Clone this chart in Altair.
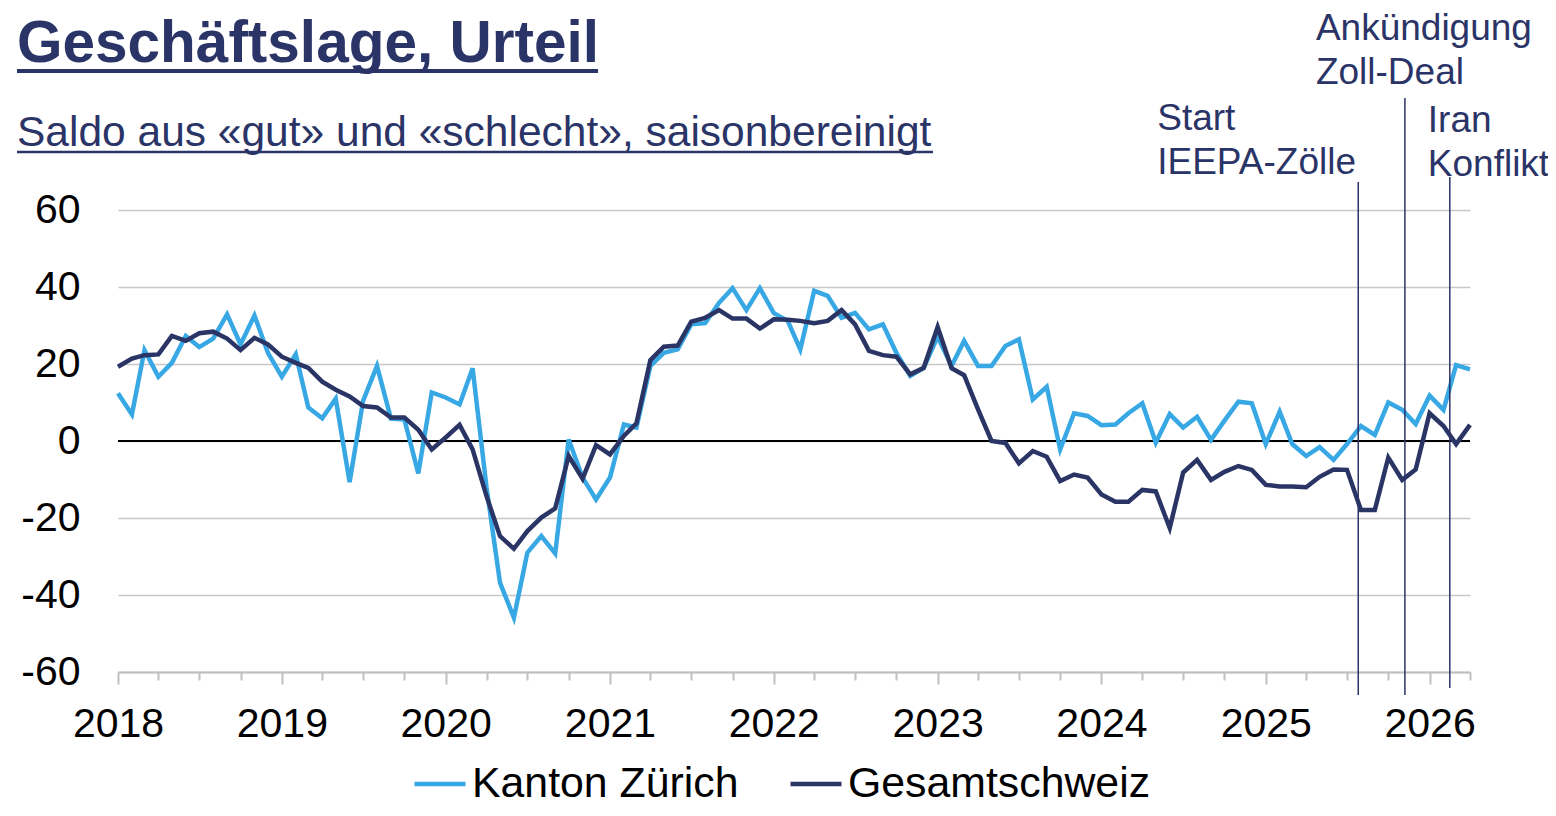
import altair as alt
import pandas as pd

# ---------------- data ----------------
series_names = ["Kanton Zürich", "Gesamtschweiz"]

kanton_zuerich = [
    12.4, 6.9, 23.6, 16.7, 20.3, 27.3, 24.4, 26.6, 32.9, 25.1, 32.6, 22.9,
    16.7, 22.5, 8.7, 5.9, 11.0, -10.7, 10.4, 19.5, 5.8, 5.6, -8.4, 12.6,
    11.3, 9.5, 18.9, -12.0, -36.8, -45.9, -29.0, -24.7, -29.2, 0.4, -9.5, -15.2,
    -9.5, 4.3, 3.5, 19.5, 22.9, 23.8, 30.3, 30.6, 35.9, 39.7, 34.0, 39.7,
    33.2, 31.2, 23.8, 39.0, 37.7, 32.0, 33.3, 29.0, 30.3, 22.9, 16.9, 19.0,
    27.1, 19.5, 26.0, 19.5, 19.5, 24.7, 26.4, 10.8, 14.1, -2.2, 7.2, 6.5,
    4.1, 4.3, 7.2, 9.8, -0.4, 7.0, 3.5, 6.3, 0.3, 5.3, 10.2, 9.8,
    -0.8, 7.6, -0.8, -3.9, -1.6, -4.9, -0.8, 3.9, 1.6, 10.0, 8.1, 4.4,
    11.8, 8.1, 19.7, 18.6,
]

gesamtschweiz = [
    19.3, 21.4, 22.3, 22.5, 27.3, 26.0, 28.0, 28.4, 26.6, 23.6, 26.8, 25.1,
    21.9, 20.3, 19.0, 15.4, 13.3, 11.6, 9.1, 8.7, 6.1, 6.1, 2.9, -2.2,
    0.9, 4.2, -2.2, -14.3, -24.7, -28.0, -23.4, -19.9, -17.5, -3.9, -9.8, -1.1,
    -3.5, 1.3, 4.6, 21.0, 24.5, 24.8, 31.0, 32.0, 34.0, 31.8, 31.8, 29.2,
    31.6, 31.5, 31.2, 30.6, 31.2, 34.0, 30.3, 23.4, 22.3, 21.9, 17.3, 19.0,
    29.6, 18.9, 17.1, 8.2, 0.0, -0.5, -5.8, -2.6, -4.1, -10.4, -8.7, -9.5,
    -13.9, -15.8, -15.8, -12.7, -13.1, -22.6, -8.2, -4.9, -10.1, -8.0, -6.5, -7.5,
    -11.4, -11.8, -11.8, -12.0, -9.3, -7.4, -7.5, -17.9, -17.9, -4.3, -10.1, -7.4,
    7.2, 3.9, -0.8, 4.2,
]

first_month = "2018-01-01"

event_labels = ["Start\nIEEPA-Zölle", "Ankündigung\nZoll-Deal", "Iran\nKonflikt"]
event_dates = ["2025-07-26", "2025-11-07", "2026-02-15"]

y_ticks = [-60, -40, -20, 0, 20, 40, 60]

title_text = "Geschäftslage, Urteil"
subtitle_text = "Saldo aus «gut» und «schlecht», saisonbereinigt"

# ---------------- styling ----------------
series_colors = ["#38a8e5", "#2a3566"]
navy = "#2b3467"
grey = "#bfbfbf"
FONT = "Liberation Sans"

months = pd.date_range(first_month, periods=len(kanton_zuerich), freq="MS")
df = pd.DataFrame({
    "Monat": list(months) + list(months),
    "Serie": [series_names[0]] * len(kanton_zuerich) + [series_names[1]] * len(gesamtschweiz),
    "Saldo": kanton_zuerich + gesamtschweiz,
})

events = pd.DataFrame({"Monat": pd.to_datetime(event_dates), "Ereignis": event_labels})

x_scale = alt.Scale(
    domain=[alt.DateTime(year=2018, month=1, date=1), alt.DateTime(year=2026, month=4, date=1)],
    nice=False,
)
y_scale = alt.Scale(domain=[-60, 60], nice=False)

quarter_values = [
    alt.DateTime(year=y, month=m, date=1)
    for y in range(2018, 2027)
    for m in (1, 4, 7, 10)
    if (y, m) <= (2026, 4)
]

x_axis = alt.Axis(
    values=quarter_values,
    title=None,
    grid=False,
    domainColor=grey,
    domainWidth=2,
    tickColor=grey,
    tickWidth=2,
    tickSize={"condition": {"test": "month(datum.value) === 0", "value": 12}, "value": 8},
    labelExpr="month(datum.value) === 0 ? timeFormat(datum.value, '%Y') : ''",
    labelFontSize=41,
    labelFont=FONT,
    labelColor="#000000",
    labelPadding=20,
    labelOverlap=False,
    labelFlush=False,
)

y_axis = alt.Axis(
    values=y_ticks,
    title=None,
    domain=False,
    ticks=False,
    grid=True,
    gridColor="#c8c8c8",
    gridWidth=1.5,
    labelFontSize=41,
    labelFont=FONT,
    labelColor="#000000",
    labelPadding=38,
    labelExpr="datum.value + ''",
)

X = alt.X("Monat:T", scale=x_scale, axis=x_axis)
Y = alt.Y("Saldo:Q", scale=y_scale, axis=y_axis)

color = alt.Color(
    "Serie:N",
    scale=alt.Scale(domain=series_names, range=series_colors),
    legend=alt.Legend(
        title=None,
        orient="none",
        legendX=294,
        legendY=546,
        direction="horizontal",
        symbolType="stroke",
        symbolSize=2601,
        symbolStrokeWidth=4.5,
        labelFontSize=42.8,
        labelFont=FONT,
        labelColor="#000000",
        labelOffset=4,
        labelLimit=0,
        columnPadding=42,
        padding=0,
    ),
)

zero_rule = alt.Chart(pd.DataFrame({"Saldo": [0]})).mark_rule(
    color="#000000", strokeWidth=2
).encode(y=Y)

base = alt.Chart(df).encode(x=X, y=Y, color=color)
line_kz = base.transform_filter(alt.datum.Serie == series_names[0]).mark_line(strokeWidth=4.5)
line_gs = base.transform_filter(alt.datum.Serie == series_names[1]).mark_line(strokeWidth=4.5)

# event markers: rule tops/bottoms and label offsets (pixels, styling only)
rule_tops = [-28, -112, -33]
rule_bottoms = [485, 485, 478]
label_dx = [-201, -89, -22]
label_y = [-80, -170, -78]

event_layers = []
for i in range(len(event_labels)):
    ev = alt.Chart(events.iloc[[i]])
    event_layers.append(
        ev.mark_rule(color=navy, strokeWidth=1.5).encode(
            x=X, y=alt.value(rule_tops[i]), y2=alt.value(rule_bottoms[i])
        )
    )
    event_layers.append(
        ev.mark_text(
            align="left", baseline="alphabetic", dx=label_dx[i], fontSize=37,
            lineHeight=44, lineBreak="\n", color=navy, font=FONT,
        ).encode(x=X, y=alt.value(label_y[i]), text="Ereignis:N")
    )

one = pd.DataFrame({"t": [0]})
title = alt.Chart(pd.DataFrame({"t": [title_text]})).mark_text(
    align="left", baseline="alphabetic", fontSize=58.5, fontWeight="bold", color=navy, font=FONT
).encode(x=alt.value(-101), y=alt.value(-148), text="t:N")
title_ul = alt.Chart(one).mark_rule(color=navy, strokeWidth=4).encode(
    x=alt.value(-101), x2=alt.value(480), y=alt.value(-139)
)
subtitle = alt.Chart(pd.DataFrame({"t": [subtitle_text]})).mark_text(
    align="left", baseline="alphabetic", fontSize=42.5, color=navy, font=FONT
).encode(x=alt.value(-101), y=alt.value(-64), text="t:N")
subtitle_ul = alt.Chart(one).mark_rule(color=navy, strokeWidth=2.5).encode(
    x=alt.value(-101), x2=alt.value(815), y=alt.value(-58)
)

chart = alt.layer(
    zero_rule, line_kz, line_gs, *event_layers, title, title_ul, subtitle, subtitle_ul
).properties(
    width=1352,
    height=462,
    padding={"left": 110, "top": 202, "right": 78, "bottom": 136},
    autosize=alt.AutoSizeParams(type="none"),
).configure(font=FONT).configure_view(stroke=None)

chart.save("out.html", embed_options={"renderer": "svg", "actions": False})
